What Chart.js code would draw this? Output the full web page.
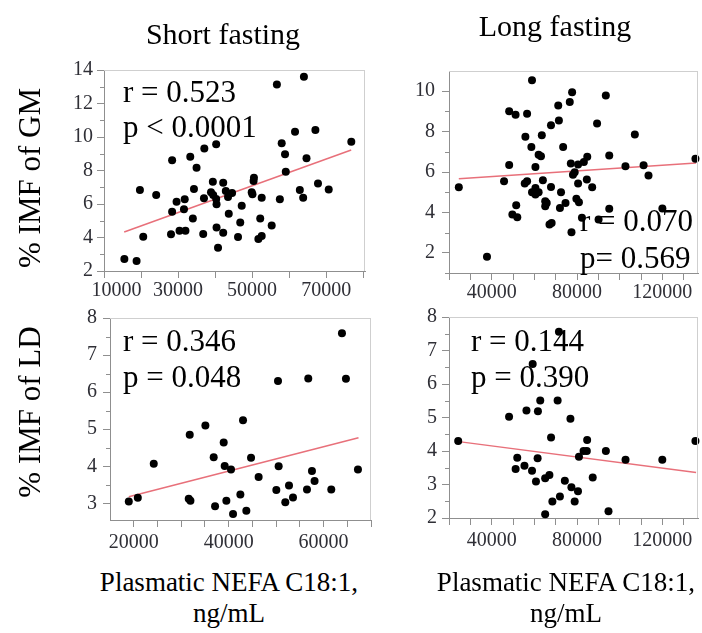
<!DOCTYPE html>
<html><head><meta charset="utf-8">
<script src="https://cdn.jsdelivr.net/npm/chart.js@4.4.1/dist/chart.umd.min.js"></script>
<style>
html,body{margin:0;padding:0;background:#fff;overflow:hidden;width:702px;height:633px;}
canvas{position:absolute;}
.t{position:absolute;font-family:"Liberation Serif","Times New Roman",serif;color:#000;white-space:nowrap;line-height:1;}
</style></head><body>
<canvas id="c1" width="380" height="270" style="left:0;top:40px;width:380px;height:270px"></canvas>
<canvas id="c2" width="322" height="270" style="left:380px;top:40px;width:322px;height:270px"></canvas>
<canvas id="c3" width="385" height="260" style="left:0;top:300px;width:385px;height:260px"></canvas>
<canvas id="c4" width="322" height="260" style="left:380px;top:300px;width:322px;height:260px"></canvas>

<div class="t" style="font-size:30px;left:223px;top:19px;transform:translateX(-50%)">Short fasting</div>
<div class="t" style="font-size:30px;left:555px;top:11px;transform:translateX(-50%)">Long fasting</div>
<div class="t" style="font-size:31px;left:29px;top:178px;transform:translate(-50%,-50%) rotate(-90deg)">% IMF of GM</div>
<div class="t" style="font-size:31px;left:29px;top:412px;transform:translate(-50%,-50%) rotate(-90deg)">% IMF of LD</div>
<div class="t" style="font-size:27px;line-height:31px;left:229px;top:567px;transform:translateX(-50%);text-align:center">Plasmatic NEFA C18:1,<br>ng/mL</div>
<div class="t" style="font-size:27px;line-height:31px;left:566px;top:567px;transform:translateX(-50%);text-align:center">Plasmatic NEFA C18:1,<br>ng/mL</div>

<div class="t" style="font-size:31px;left:123px;top:76px">r = 0.523</div>
<div class="t" style="font-size:31px;left:123px;top:111px">p &lt; 0.0001</div>
<div class="t" style="font-size:31px;left:580px;top:205px">r = 0.070</div>
<div class="t" style="font-size:31px;left:580px;top:242px">p= 0.569</div>
<div class="t" style="font-size:31px;left:123px;top:325px">r = 0.346</div>
<div class="t" style="font-size:31px;left:123px;top:361px">p = 0.048</div>
<div class="t" style="font-size:31px;left:471px;top:325px">r = 0.144</div>
<div class="t" style="font-size:31px;left:471px;top:361px">p = 0.390</div>

<script>
// ---- Short fasting, GM ----
const GM_SHORT_X = [15500,18800,19700,20600,24100,28400,28400,28100,29600,30400,31800,31600,32000,33300,34000,34300,35000,37100,37000,36800,39400,38900,39500,40300,40400,40400,40800,40300,42200,42200,42900,43500,43700,44600,47200,46800,46200,49900,50500,50400,50100,52600,52200,51700,52600,55300,56700,58000,58900,59100,57500,61600,62900,63800,64000,64700,67100,67800,70700,76800];
const GM_SHORT_Y = [2.72,2.60,6.84,4.05,6.54,8.61,5.54,4.19,6.14,4.41,6.28,5.68,4.41,8.82,5.14,6.90,8.17,9.32,6.34,4.21,7.33,6.70,6.54,6.30,5.98,4.59,3.39,9.56,7.27,4.29,6.78,6.42,5.42,6.66,5.90,4.89,4.03,6.70,7.57,7.37,6.58,6.38,5.14,3.91,4.09,4.71,13.14,9.62,8.97,7.93,6.28,10.32,6.84,6.38,13.60,8.73,10.42,7.23,6.86,9.72];
const GM_SHORT_FIT_X = [15460, 76770];
const GM_SHORT_FIT_Y = [4.33, 9.22];

// ---- Long fasting, GM ----
const GM_LONG_X = [24600,37800,45800,48200,48200,51200,49700,51500,52000,55800,56600,55500,56600,58900,58600,60500,58900,60500,60500,62000,63100,62000,63500,64000,65100,65100,65800,67100,68100,67800,67800,71200,71500,72000,72500,73500,74600,76600,77700,77100,77400,78100,78900,79700,80500,80500,80900,82300,83200,84800,84600,87100,89400,90100,93500,95100,95100,102700,107100,111200,113500,120000,135500];
const GM_LONG_Y = [5.25,1.80,5.54,6.35,9.01,8.84,3.89,4.36,3.76,7.74,8.88,5.43,5.54,10.54,7.24,6.25,5.00,5.21,4.88,6.86,6.78,5.00,7.82,5.59,4.55,4.31,4.47,3.40,3.48,5.26,8.32,9.29,8.55,4.22,5.00,7.24,4.47,9.46,9.95,6.42,3.02,5.87,5.99,4.67,6.37,5.43,4.50,3.73,6.49,6.75,5.63,5.25,8.40,3.65,9.79,6.82,4.18,6.29,7.86,6.34,5.83,4.19,6.65];
const GM_LONG_FIT_X = [24600, 135800];
const GM_LONG_FIT_Y = [5.66, 6.45];

// ---- Short fasting, LD ----
const LD_SHORT_X = [18960,20860,24220,31590,31950,31800,35100,36850,37140,38960,39170,39520,40500,40930,42470,43030,43730,44720,46320,50050,50540,50400,51940,52720,53560,56510,56780,57560,58110,61630,63880,64720,67250];
const LD_SHORT_Y = [3.05,3.15,4.07,3.12,3.07,4.85,5.10,4.24,2.92,4.64,4.01,3.07,3.91,2.71,3.24,5.24,2.80,4.23,3.71,3.36,4.00,6.30,3.03,3.48,3.16,3.37,6.37,3.87,3.60,3.37,7.59,6.36,3.91];
const LD_SHORT_FIT_X = [18960, 67370];
const LD_SHORT_FIT_Y = [3.18, 4.77];

// ---- Long fasting, LD ----
const LD_LONG_X = [24310,48150,51220,51990,55370,56300,58910,59220,60760,61530,61680,62760,65070,65070,67060,67830,68450,70910,71520,71980,74290,76910,77370,78900,80450,80910,83060,84600,84750,87360,93520,94750,102740,119970,135500];
const LD_LONG_Y = [4.30,5.02,3.46,3.80,3.56,5.21,3.41,6.60,3.09,3.78,5.19,5.51,3.19,2.11,3.28,4.40,2.49,5.51,7.56,2.64,3.11,4.96,2.92,2.49,2.80,3.83,4.00,4.00,4.33,3.21,4.00,2.20,3.74,3.74,4.30];
const LD_LONG_FIT_X = [24600, 135800];
const LD_LONG_FIT_Y = [4.28, 3.36];

// ---- ticks ----
const SHORT_GM_XTICKS = [10000,20000,30000,40000,50000,60000,70000,80000];
const SHORT_GM_XLABELS = [10000,30000,50000,70000];
const SHORT_GM_YTICKS = [2,4,6,8,10,12,14];
const SHORT_GM_YMINOR = [3,5,7,9,11,13];
const LONG_XTICKS = [20000,30000,40000,50000,60000,70000,80000,90000,100000,110000,120000,130000];
const LONG_XLABELS = [40000,80000,120000];
const LONG_GM_YTICKS = [2,4,6,8,10];
const LONG_GM_YMINOR = [1,3,5,7,9];
const SHORT_LD_XTICKS = [20000,25000,30000,35000,40000,45000,50000,55000,60000,65000,70000];
const SHORT_LD_XLABELS = [20000,40000,60000];
const SHORT_LD_YTICKS = [3,4,5,6,7,8];
const SHORT_LD_YMINOR = [3.5,4.5,5.5,6.5,7.5];
const LONG_LD_YTICKS = [2,3,4,5,6,7,8];
const LONG_LD_YMINOR = [2.5,3.5,4.5,5.5,6.5,7.5];

const FONT = {family:'"Liberation Serif","Times New Roman",serif', size:20};
const AXIS = '#8f8f8f';

const extras = {
  id:'extras',
  afterDraw(chart, args, o){
    const ctx = chart.ctx, a = chart.chartArea;
    ctx.save();
    ctx.strokeStyle = '#cfcfcf'; ctx.lineWidth = 1;
    ctx.beginPath();
    ctx.moveTo(a.left, Math.round(a.top)+0.5); ctx.lineTo(a.right, Math.round(a.top)+0.5);
    ctx.moveTo(Math.round(a.right)-0.5, a.top); ctx.lineTo(Math.round(a.right)-0.5, a.bottom);
    ctx.stroke();
    ctx.strokeStyle = AXIS;
    ctx.beginPath();
    const ys = chart.scales.y;
    (o.yminor||[]).forEach(v => {
      const py = Math.round(ys.getPixelForValue(v)) + 0.5;
      ctx.moveTo(a.left - 4, py); ctx.lineTo(a.left, py);
    });
    ctx.stroke();
    ctx.restore();
  }
};

function pts(xs, ys){ return xs.map((x,i)=>({x:x, y:ys[i]})); }

function panel(id, p){
  new Chart(document.getElementById(id), {
    type:'scatter',
    data:{datasets:[
      {data:pts(p.x,p.y), backgroundColor:'#000', borderColor:'#000', pointRadius:4, pointHoverRadius:4, borderWidth:0, clip:false, order:0},
      {data:pts(p.fx,p.fy), showLine:true, borderColor:'#e8707a', borderWidth:1.5, pointRadius:0, fill:false, order:1}
    ]},
    options:{
      responsive:false, animation:false, devicePixelRatio:1, events:[],
      layout:{padding:p.pad},
      plugins:{legend:{display:false}, tooltip:{enabled:false}, title:{display:false}, extras:{yminor:p.yminor}},
      scales:{
        x:{type:'linear', position:'bottom', min:p.xmin, max:p.xmax,
          afterFit(s){ s.height = p.xh; },
          afterBuildTicks(s){ s.ticks = p.xticks.map(v=>({value:v})); },
          ticks:{autoSkip:false, maxRotation:0, minRotation:0, padding:p.xpad, color:'#2f2f36', font:FONT,
            callback:(v)=> p.xlabels.includes(v) ? ((p.shiftFirst && v === p.xlabels[0]) ? '\u2002\u2002 ' + v : String(v)) : ''},
          grid:{drawOnChartArea:false, drawTicks:true, tickLength:7, tickColor:AXIS},
          border:{display:true, color:AXIS}
        },
        y:{type:'linear', position:'left', min:p.ymin, max:p.ymax,
          afterFit(s){ s.width = p.yw; },
          afterBuildTicks(s){ s.ticks = p.yticks.map(v=>({value:v})); },
          ticks:{autoSkip:false, padding:p.ypad, color:'#2f2f36', font:FONT, callback:(v)=>String(v)},
          grid:{drawOnChartArea:false, drawTicks:true, tickLength:7, tickColor:AXIS},
          border:{display:true, color:AXIS}
        }
      }
    },
    plugins:[extras]
  });
}

panel('c1', {x:GM_SHORT_X, y:GM_SHORT_Y, fx:GM_SHORT_FIT_X, fy:GM_SHORT_FIT_Y,
  xmin:10000, xmax:80500, ymin:2, ymax:14, xticks:SHORT_GM_XTICKS, xlabels:SHORT_GM_XLABELS, shiftFirst:true,
  yticks:SHORT_GM_YTICKS, yminor:SHORT_GM_YMINOR, pad:{top:30,right:15,left:0,bottom:0}, yw:104, xh:39, xpad:1, ypad:4});
panel('c2', {x:GM_LONG_X, y:GM_LONG_Y, fx:GM_LONG_FIT_X, fy:GM_LONG_FIT_Y,
  xmin:20000, xmax:136700, ymin:1, ymax:11, xticks:LONG_XTICKS, xlabels:LONG_XLABELS,
  yticks:LONG_GM_YTICKS, yminor:LONG_GM_YMINOR, pad:{top:31,right:0,left:0,bottom:0}, yw:69, xh:37, xpad:1, ypad:7});
panel('c3', {x:LD_SHORT_X, y:LD_SHORT_Y, fx:LD_SHORT_FIT_X, fy:LD_SHORT_FIT_Y,
  xmin:15000, xmax:70000, ymin:2.55, ymax:8, xticks:SHORT_LD_XTICKS, xlabels:SHORT_LD_XLABELS,
  yticks:SHORT_LD_YTICKS, yminor:SHORT_LD_YMINOR, pad:{top:18,right:14,left:0,bottom:0}, yw:110, xh:40, xpad:4, ypad:6});
panel('c4', {x:LD_LONG_X, y:LD_LONG_Y, fx:LD_LONG_FIT_X, fy:LD_LONG_FIT_Y,
  xmin:20000, xmax:136700, ymin:2, ymax:8, xticks:LONG_XTICKS, xlabels:LONG_XLABELS,
  yticks:LONG_LD_YTICKS, yminor:LONG_LD_YMINOR, pad:{top:15,right:0,left:0,bottom:0}, yw:69, xh:42, xpad:4, ypad:5});
</script>
</body></html>
